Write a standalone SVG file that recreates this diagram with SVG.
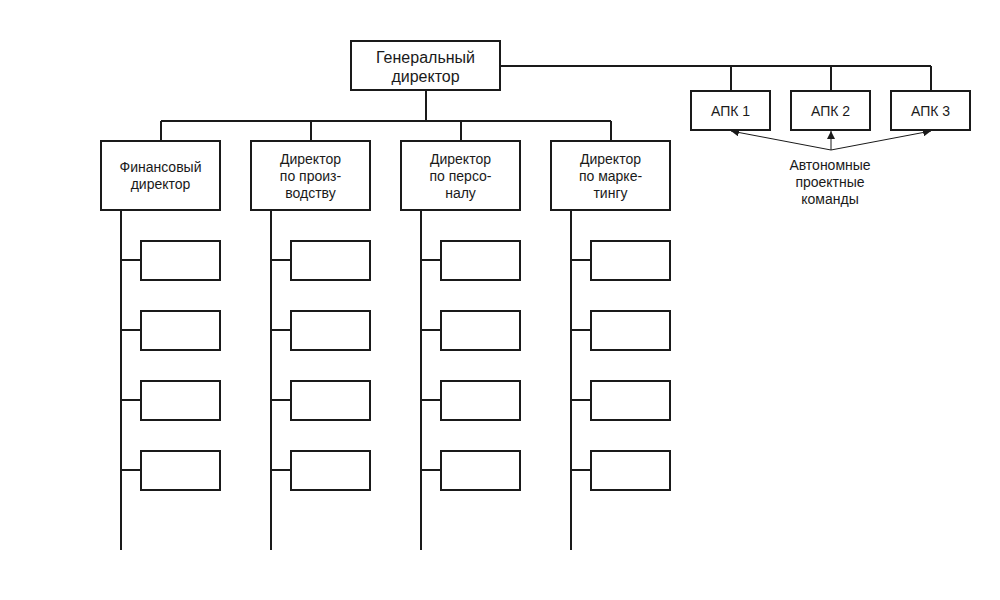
<svg xmlns="http://www.w3.org/2000/svg" width="1000" height="600" viewBox="0 0 1000 600">
<style>
.box{fill:#fff;stroke:#1a1a1a;stroke-width:2}
.ln{fill:none;stroke:#1a1a1a;stroke-width:2}
.thin{fill:none;stroke:#1a1a1a;stroke-width:1}
text{font-family:"Liberation Sans",Arial,sans-serif;fill:#1a1a1a;text-anchor:middle}
.t15{font-size:16px}
.t13{font-size:14px}
</style>
<defs>
<marker id="ah" viewBox="0 0 10 10" refX="10" refY="5" markerWidth="8" markerHeight="8" markerUnits="userSpaceOnUse" orient="auto">
<path d="M0,0 L10,5 L0,10 z" fill="#1a1a1a"/>
</marker>
</defs>
<rect width="1000" height="600" fill="#fff"/>
<g id="connectors">
<path class="ln" d="M426,90 V121 M161,121 H611 M161,121 V141 M311,121 V141 M461,121 V141 M611,121 V141"/>
<path class="ln" d="M500,66 H931 M731,66 V91 M831,66 V91 M931,66 V91"/>
<path class="ln" d="M121,210 V550 M271,210 V550 M421,210 V550 M571,210 V550"/>
<path class="ln" d="M121,260 H141 M121,330 H141 M121,400 H141 M121,470 H141"/>
<path class="ln" d="M271,260 H291 M271,330 H291 M271,400 H291 M271,470 H291"/>
<path class="ln" d="M421,260 H441 M421,330 H441 M421,400 H441 M421,470 H441"/>
<path class="ln" d="M571,260 H591 M571,330 H591 M571,400 H591 M571,470 H591"/>
<line class="thin" x1="831" y1="150" x2="731" y2="131" marker-end="url(#ah)"/>
<line class="thin" x1="831" y1="150" x2="831" y2="131" marker-end="url(#ah)"/>
<line class="thin" x1="831" y1="150" x2="931" y2="131" marker-end="url(#ah)"/>
</g>
<g id="gen">
<rect class="box" x="351" y="41" width="149" height="49"/>
<text class="t15" x="425.5" y="63">Генеральный</text>
<text class="t15" x="425.5" y="82">директор</text>
</g>
<g id="fin">
<rect class="box" x="101" y="141" width="119" height="69"/>
<text class="t13" x="160.5" y="172">Финансовый</text>
<text class="t13" x="160.5" y="189">директор</text>
</g>
<g id="prod">
<rect class="box" x="251" y="141" width="119" height="69"/>
<text class="t13" x="310.5" y="164">Директор</text>
<text class="t13" x="310.5" y="181">по произ-</text>
<text class="t13" x="310.5" y="198">водству</text>
</g>
<g id="pers">
<rect class="box" x="401" y="141" width="119" height="69"/>
<text class="t13" x="460.5" y="164">Директор</text>
<text class="t13" x="460.5" y="181">по персо-</text>
<text class="t13" x="460.5" y="198">налу</text>
</g>
<g id="mark">
<rect class="box" x="551" y="141" width="119" height="69"/>
<text class="t13" x="610.5" y="164">Директор</text>
<text class="t13" x="610.5" y="181">по марке-</text>
<text class="t13" x="610.5" y="198">тингу</text>
</g>
<g id="apk1"><rect class="box" x="691" y="91" width="79" height="39"/><text class="t13" x="730.5" y="115.5">АПК 1</text></g>
<g id="apk2"><rect class="box" x="791" y="91" width="79" height="39"/><text class="t13" x="830.5" y="115.5">АПК 2</text></g>
<g id="apk3"><rect class="box" x="891" y="91" width="79" height="39"/><text class="t13" x="930.5" y="115.5">АПК 3</text></g>
<g id="apk-label">
<text class="t13" x="830" y="170">Автономные</text>
<text class="t13" x="830" y="187">проектные</text>
<text class="t13" x="830" y="204">команды</text>
</g>
<g id="subs">
<rect class="box" x="141" y="241" width="79" height="39"/>
<rect class="box" x="141" y="311" width="79" height="39"/>
<rect class="box" x="141" y="381" width="79" height="39"/>
<rect class="box" x="141" y="451" width="79" height="39"/>
<rect class="box" x="291" y="241" width="79" height="39"/>
<rect class="box" x="291" y="311" width="79" height="39"/>
<rect class="box" x="291" y="381" width="79" height="39"/>
<rect class="box" x="291" y="451" width="79" height="39"/>
<rect class="box" x="441" y="241" width="79" height="39"/>
<rect class="box" x="441" y="311" width="79" height="39"/>
<rect class="box" x="441" y="381" width="79" height="39"/>
<rect class="box" x="441" y="451" width="79" height="39"/>
<rect class="box" x="591" y="241" width="79" height="39"/>
<rect class="box" x="591" y="311" width="79" height="39"/>
<rect class="box" x="591" y="381" width="79" height="39"/>
<rect class="box" x="591" y="451" width="79" height="39"/>
</g>
</svg>
